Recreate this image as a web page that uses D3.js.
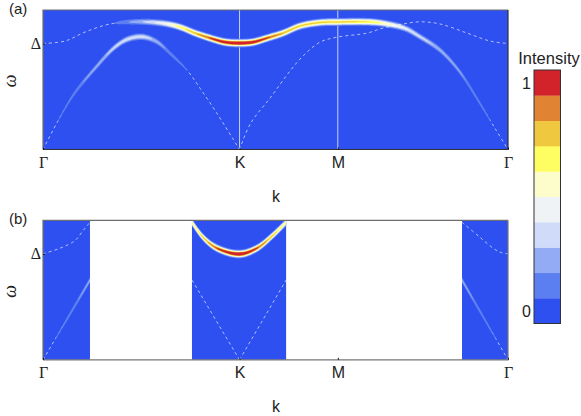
<!DOCTYPE html>
<html>
<head>
<meta charset="utf-8">
<script src="https://cdn.jsdelivr.net/npm/d3@7"></script>
<style>
body { margin: 0; background: #fff; }
text { font-family: "Liberation Sans", Arial, sans-serif; fill: #222; }
.serif { font-family: "Liberation Serif", serif; }
</style>
</head>
<body>
<div id="chart"></div>
<script>
// k axis runs along the path, omega is in units of the gap
var tickK = [0, 1, 1.5, 2.366];
var tickLabels = ["\u0393", "K", "M", "\u0393"];
var levelColors = ["#2e50f0", "#5b7ef0", "#93abf4", "#cfdbf9", "#eff3f5",
                   "#fdfccb", "#fefe62", "#f0c840", "#e08434", "#d2232a"];

// panel (a)
var upperK = [0, .112, .214, .341, .494, .621, .697, .774, .850, .926, 1, 1.069, 1.140, 1.221, 1.308, 1.41, 1.5, 1.664, 1.740, 1.842, 1.919, 2.020, 2.121, 2.223, 2.300, 2.366];
var upperW = [1, 1.023, 1.108, 1.184, 1.205, 1.188, 1.155, 1.098, 1.051, 1.013, 1.004, 1.013, 1.051, 1.098, 1.165, 1.198, 1.203, 1.203, 1.188, 1.143, 1.063, .938, .732, .436, .199, 0];
var upperI = [.03, .03, .04, .07, .28, .48, .66, .78, .92, 1.05, 1.12, 1.05, .92, .8, .74, .73, .73, .7, .58, .42, .34, .28, .22, .15, .08, .04];

var lowLeftK = [0, .147, .265, .366, .433, .509, .580, .646, .733, .799, .885, .962, 1];
var lowLeftW = [0, .495, .767, .966, 1.042, 1.063, 1.016, .909, .748, .578, .341, .114, 0];
var lowLeftI = [.04, .16, .25, .34, .38, .38, .26, .17, .1, .07, .05, .04, .03];

var lowRightK = [1, 1.056, 1.158, 1.260, 1.327, 1.41, 1.5, 1.649, 1.730, 1.832, 1.919, 2.02, 2.158, 2.275, 2.366];
var lowRightW = [0, .246, .492, .748, .890, 1.013, 1.061, 1.098, 1.146, 1.184, 1.205, 1.184, 1.098, 1.023, 1];
var lowRightI = [.03, .05, .05, .06, .06, .05, .05, .04, .04, .04, .04, .04, .04, .04, .04];

// panel (b), only the allowed windows of k
var windows = [[0, .239], [.758, 1.237], [2.132, 2.366]];

var bUpLeftK = [0, .087, .163, .205, .239];
var bUpLeftW = [1, 1.053, 1.125, 1.222, 1.297];
var bUpLeftI = [.04, .04, .04, .04, .04];

var bUpMidK = [.758, .814, .885, 1, 1.089, 1.170, 1.237];
var bUpMidW = [1.297, 1.156, 1.053, .998, 1.053, 1.175, 1.297];
var bUpMidI = [.62, .74, .92, 1.15, .92, .74, .62];

var bUpRightK = [2.132, 2.223, 2.290, 2.326, 2.366];
var bUpRightW = [1.297, 1.156, 1.053, 1.015, 1];
var bUpRightI = [.04, .04, .04, .04, .04];

var bLowLeftK = [0, .239];
var bLowLeftW = [0, .752];
var bLowLeftI = [.05, .25];

var bLowMidLK = [.758, 1];
var bLowMidLW = [.752, 0];
var bLowMidLI = [.06, .04];

var bLowMidRK = [1, 1.237];
var bLowMidRW = [0, .752];
var bLowMidRI = [.04, .05];

var bLowRightK = [2.132, 2.366];
var bLowRightW = [.752, 0];
var bLowRightI = [.25, .05];

var bandsA = [[upperK, upperW, upperI], [lowLeftK, lowLeftW, lowLeftI], [lowRightK, lowRightW, lowRightI]];
var bandsB = [[bUpLeftK, bUpLeftW, bUpLeftI], [bUpMidK, bUpMidW, bUpMidI], [bUpRightK, bUpRightW, bUpRightI],
              [bLowLeftK, bLowLeftW, bLowLeftI], [bLowMidLK, bLowMidLW, bLowMidLI],
              [bLowMidRK, bLowMidRW, bLowMidRI], [bLowRightK, bLowRightW, bLowRightI]];

var width = 581, height = 416;
var left = 43, right = 508, plotH = 139.5;
var sigma = 2;

var svg = d3.select("#chart").append("svg")
    .attr("width", width)
    .attr("height", height)
    .style("display", "block");

var defs = svg.append("defs");
defs.append("filter").attr("id", "soft")
    .append("feGaussianBlur").attr("stdDeviation", 0.35);

var x = d3.scaleLinear().domain([0, tickK[3]]).range([left, right]);

function drawPanel(top, name, spans, bands, showCuts, labelBase) {
    var y = d3.scaleLinear().domain([0, 1.316]).range([top + plotH, top]);
    var g = svg.append("g");
    var clipId = "clip" + name;

    defs.append("clipPath").attr("id", clipId)
        .append("rect")
        .attr("x", left).attr("y", top)
        .attr("width", right - left).attr("height", plotH);

    g.selectAll(".bg")
        .data(spans)
        .enter().append("rect")
        .attr("x", function(d) { return x(d[0]); })
        .attr("y", top)
        .attr("width", function(d) { return x(d[1]) - x(d[0]); })
        .attr("height", plotH)
        .style("fill", levelColors[0]);

    if (showCuts) {
        g.selectAll(".cut")
            .data(tickK.slice(1, 3))
            .enter().append("line")
            .attr("x1", x).attr("x2", x)
            .attr("y1", top).attr("y2", top + plotH)
            .style("stroke", "#c4d0f8")
            .style("stroke-width", 1);
    }

    var heat = g.append("g").attr("clip-path", "url(#" + clipId + ")");
    var line = d3.line().curve(d3.curveCatmullRom);

    bands.forEach(function(b) {
        var knots = b[0].map(function(k, i) { return [x(k), y(b[1][i])]; });
        var d = line(knots);

        // faint bands only show up as the broken thin line
        heat.append("path")
            .attr("d", d)
            .style("fill", "none")
            .style("stroke", "#fff")
            .style("stroke-width", 0.8)
            .style("stroke-opacity", 0.8)
            .style("stroke-dasharray", "3 3");

        var probe = document.createElementNS("http://www.w3.org/2000/svg", "path");
        probe.setAttribute("d", d);
        var len = probe.getTotalLength();
        var weight = d3.scaleLinear().domain(b[0]).range(b[2]).clamp(true);
        var pts = d3.range(0, len, 1).concat([len]).map(function(s) {
            var p = probe.getPointAtLength(s);
            return {x: p.x, y: p.y, w: weight(x.invert(p.x))};
        });

        // width is along omega only, so steep parts come out thin
        d3.range(1, levelColors.length).forEach(function(level) {
            var t = level / 10;
            var half = function(p) {
                return p.w > t ? sigma * Math.sqrt(2 * Math.log(p.w / t)) : 0;
            };
            var area = d3.area()
                .x(function(p) { return p.x; })
                .y0(function(p) { return p.y - half(p); })
                .y1(function(p) { return p.y + half(p); });
            heat.append("path")
                .attr("d", area(pts))
                .style("fill", levelColors[level])
                .attr("filter", "url(#soft)");
        });
    });

    // frame
    g.append("path")
        .attr("d", "M" + left + "," + (top + plotH) + "V" + top + "H" + right)
        .style("fill", "none")
        .style("stroke", "#6e6e6e")
        .style("stroke-width", 1.2);
    g.append("path")
        .attr("d", "M" + right + "," + top + "V" + (top + plotH) + "H" + left)
        .style("fill", "none")
        .style("stroke", name == "a" ? "#333" : "#777")
        .style("stroke-width", 1.2);

    var axisX = g.append("g")
        .attr("transform", "translate(0," + (top + plotH) + ")")
        .call(d3.axisBottom(x).tickValues(tickK)
            .tickSize(-2).tickPadding(7)
            .tickFormat(function(d, i) { return tickLabels[i]; }));
    axisX.select(".domain").remove();
    axisX.selectAll("line").style("stroke", "#111");
    axisX.selectAll("text")
        .style("font-size", "16px")
        .style("fill", "#222")
        .style("font-family", function(d, i) {
            return tickLabels[i] == "\u0393" ? "'Liberation Serif', serif" : "'Liberation Sans', sans-serif";
        });

    var axisY = g.append("g")
        .attr("transform", "translate(" + left + ",0)")
        .call(d3.axisLeft(y).tickValues([1])
            .tickSize(-2).tickPadding(2)
            .tickFormat(function() { return "\u0394"; }));
    axisY.select(".domain").remove();
    axisY.selectAll("line").style("stroke", "#111");
    axisY.selectAll("text")
        .style("font-size", "16px")
        .style("fill", "#222")
        .style("font-family", "'Liberation Serif', serif");

    g.append("text")
        .attr("x", 9).attr("y", labelBase)
        .style("font-size", "15px")
        .text("(" + name + ")");

    g.append("text")
        .attr("class", "serif")
        .attr("transform", "translate(16," + (top + 71) + ") rotate(-90)")
        .attr("text-anchor", "middle")
        .style("font-size", "18px")
        .style("font-style", "italic")
        .text("\u03c9");

    g.append("text")
        .attr("x", 276).attr("y", top + plotH + 52)
        .attr("text-anchor", "middle")
        .style("font-size", "16px")
        .text("k");
}

drawPanel(10, "a", [[0, tickK[3]]], bandsA, true, 14);
drawPanel(220.3, "b", windows, bandsB, false, 224);

// colour bar
var levels = d3.range(levelColors.length);
var barY = d3.scaleBand().domain(levels).range([323.5, 70]);
var bar = svg.append("g");

bar.selectAll("rect")
    .data(levels)
    .enter().append("rect")
    .attr("x", 534)
    .attr("y", function(d) { return barY(d); })
    .attr("width", 26.5)
    .attr("height", barY.bandwidth() + 0.3)
    .style("fill", function(d) { return levelColors[d]; });

bar.append("rect")
    .attr("x", 534).attr("y", 70)
    .attr("width", 26.5).attr("height", 253.5)
    .style("fill", "none")
    .style("stroke", "#333")
    .style("stroke-width", 1);

bar.selectAll(".lab")
    .data([0, levelColors.length - 1])
    .enter().append("text")
    .attr("x", 531)
    .attr("y", function(d) { return barY(d) + barY.bandwidth() / 2 + 6; })
    .attr("text-anchor", "end")
    .style("font-size", "16px")
    .text(function(d) { return d ? "1" : "0"; });

bar.append("text")
    .attr("x", 549).attr("y", 64)
    .attr("text-anchor", "middle")
    .style("font-size", "16.5px")
    .text("Intensity");
</script>
</body>
</html>
